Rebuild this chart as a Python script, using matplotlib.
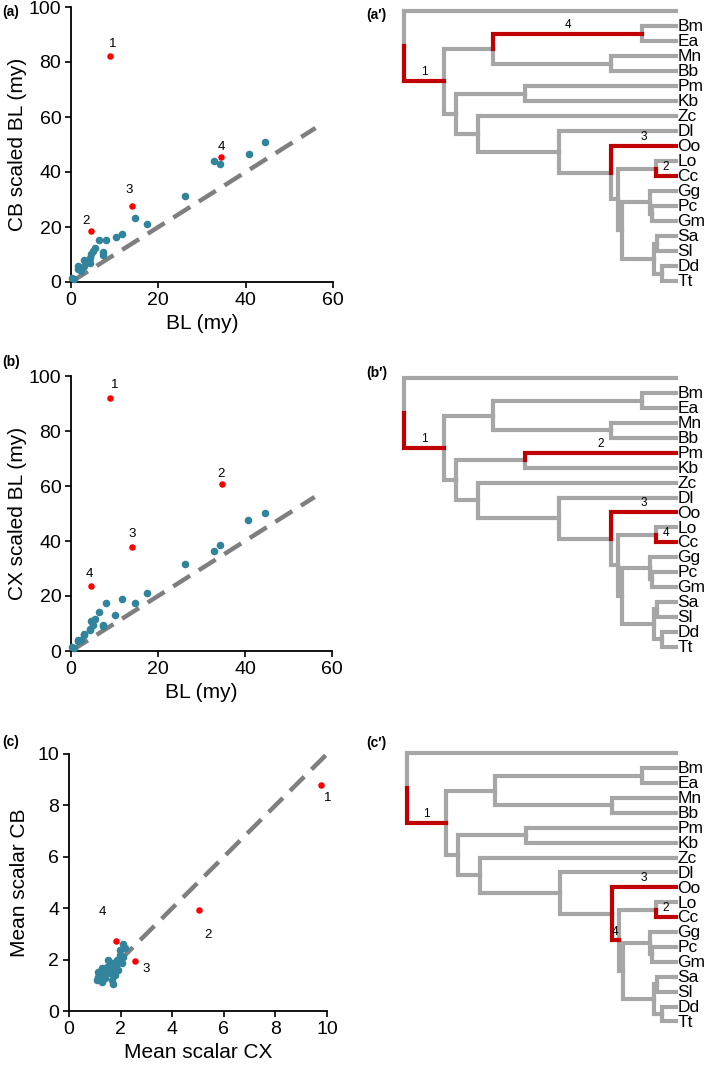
import matplotlib
matplotlib.use('Agg')
import matplotlib.pyplot as plt
import numpy as np

plt.rcParams['font.family'] = ['Liberation Sans', 'DejaVu Sans']

# ---- scatter data ----
# branch lengths (my), shared by panels a and b
bl = [44.5, 40.8, 32.8, 34.2, 26.2, 17.5, 14.6, 11.7, 10.2, 8.1, 6.5, 7.3, 7.3,
      5.6, 5.1, 4.6, 4.3, 4.3, 3.0, 3.0, 1.7, 1.5, 2.4, 0.3, 0.6]
cb_bl = [51.0, 46.4, 44.1, 42.9, 31.4, 21.0, 23.3, 17.5, 16.2, 15.2, 15.2, 10.9, 9.7,
         12.5, 11.3, 10.1, 8.7, 6.8, 8.0, 5.9, 5.9, 4.7, 4.0, 1.5, 1.0]
cx_bl = [50.1, 47.8, 36.2, 38.5, 31.5, 21.1, 17.6, 18.9, 13.0, 17.6, 14.2, 9.3, 9.0,
         11.8, 9.3, 10.8, 8.1, 7.8, 5.9, 6.2, 3.9, 3.6, 4.0, 1.5, 1.0]

red_a_x = [8.9, 4.5, 14.0, 34.4]
red_a_y = [82.2, 18.7, 27.8, 45.3]
red_b_x = [8.9, 34.6, 14.0, 4.6]
red_b_y = [92.1, 60.7, 37.7, 23.8]

scal_cx = [2.08, 2.17, 1.97, 1.97, 2.10, 1.87, 2.04, 1.52, 1.65, 1.84, 1.46, 1.71,
           1.91, 1.26, 1.13, 1.32, 1.58, 1.78, 1.13, 1.39, 1.07, 1.26, 1.65, 1.71]
scal_cb = [2.61, 2.44, 2.37, 2.18, 2.11, 2.00, 1.85, 1.98, 1.85, 1.79, 1.72, 1.62,
           1.59, 1.66, 1.52, 1.46, 1.46, 1.39, 1.33, 1.27, 1.20, 1.13, 1.20, 1.07]
red_c_x = [9.75, 5.05, 2.56, 1.84]
red_c_y = [8.79, 3.93, 1.95, 2.72]

point_labels = ['1', '2', '3', '4']
# label offsets in pixels (dx, dy up)
off_a = [(3, 12), (-5, 10), (-3, 16), (0, 10)]
off_b = [(5, 13), (-1, 10), (0, 13), (-2, 12)]
off_c = [(7, -13), (9, -25), (11, -8), (-14, 29)]

# ---- tree data ----
tips = ['Out', 'Bm', 'Ea', 'Mn', 'Bb', 'Pm', 'Kb', 'Zc', 'Dl', 'Oo', 'Lo', 'Cc',
        'Gg', 'Pc', 'Gm', 'Sa', 'Sl', 'Dd', 'Tt']
children = {
    'root': ['Out', 'A'], 'A': ['B', 'C'], 'B': ['BE', 'MB'], 'BE': ['Bm', 'Ea'],
    'MB': ['Mn', 'Bb'], 'C': ['PK', 'D'], 'PK': ['Pm', 'Kb'], 'D': ['Zc', 'E'],
    'E': ['Dl', 'F'], 'F': ['Oo', 'G'], 'G': ['LC', 'H'], 'LC': ['Lo', 'Cc'],
    'H': ['GPG', 'SSDT'], 'GPG': ['Gg', 'PG'], 'PG': ['Pc', 'Gm'],
    'SSDT': ['SS', 'DT'], 'SS': ['Sa', 'Sl'], 'DT': ['Dd', 'Tt'],
}
depth = {'root': 0, 'A': 40, 'B': 89, 'BE': 238, 'MB': 207, 'C': 52, 'PK': 121,
         'D': 74, 'E': 155, 'F': 207, 'G': 214, 'LC': 252, 'H': 218, 'GPG': 246,
         'PG': 248, 'SSDT': 250, 'SS': 253, 'DT': 258}
tip_depth = 272
highlight = {
    'a': {'A': '1', 'Cc': '2', 'Oo': '3', 'BE': '4'},
    'b': {'A': '1', 'Pm': '2', 'Oo': '3', 'Cc': '4'},
    'c': {'A': '1', 'Cc': '2', 'Oo': '3', 'G': '4'},
}

BLUE = '#31849b'
RED = '#ff0000'
DASH = '#7f7f7f'
TGRAY = '#a6a6a6'
TRED = '#c00000'

W, H = 709, 1067
fig = plt.figure(figsize=(W / 100, H / 100), dpi=100)


def px_axes(x0, y0, x1, y1):
    return fig.add_axes([x0 / W, 1 - y1 / H, (x1 - x0) / W, (y1 - y0) / H])


def style_scatter(ax):
    for s in ['top', 'right']:
        ax.spines[s].set_visible(False)
    for s in ['left', 'bottom']:
        ax.spines[s].set_linewidth(1.3)
    ax.tick_params(direction='out', length=4, width=1.2, labelsize=14, pad=3)


def draw_scatter(ax, bx, by, rx, ry, offs, line_end, ticks):
    ax.plot(line_end, line_end, color=DASH, lw=3.2,
            dashes=(4.5, 2.3), zorder=1, solid_capstyle='butt')
    ax.scatter(bx, by, s=30, color=BLUE, zorder=3, linewidths=0, clip_on=False)
    ax.scatter(rx, ry, s=22, color=RED, zorder=4, linewidths=0, clip_on=False)
    for lab, x, y, (dx, dy) in zip(point_labels, rx, ry, offs):
        ax.annotate(lab, (x, y), xytext=(dx * 0.72, dy * 0.72), textcoords='offset points',
                    ha='center', va='center', fontsize=9.5)
    style_scatter(ax)
    ax.set_xticks(ticks)
    ax.set_xlim(0, ticks[-1])


# panel a
ax_a = px_axes(71, 7, 333, 282)
draw_scatter(ax_a, bl, cb_bl, red_a_x, red_a_y, off_a, [0, 56], [0, 20, 40, 60])
ax_a.set_ylim(0, 100)
ax_a.set_yticks([0, 20, 40, 60, 80, 100])
ax_a.set_xlabel('BL (my)', fontsize=15, labelpad=4)
ax_a.set_ylabel('CB scaled BL (my)', fontsize=15, labelpad=1)

# panel b
ax_b = px_axes(71, 376, 332, 651)
draw_scatter(ax_b, bl, cx_bl, red_b_x, red_b_y, off_b, [0, 56], [0, 20, 40, 60])
ax_b.set_ylim(0, 100)
ax_b.set_yticks([0, 20, 40, 60, 80, 100])
ax_b.set_xlabel('BL (my)', fontsize=15, labelpad=4)
ax_b.set_ylabel('CX scaled BL (my)', fontsize=15, labelpad=1)

# panel c
ax_c = px_axes(69, 754, 327, 1011)
draw_scatter(ax_c, scal_cx, scal_cb, red_c_x, red_c_y, off_c, [1.1, 9.95],
             [0, 2, 4, 6, 8, 10])
ax_c.set_ylim(0, 10)
ax_c.set_yticks([0, 2, 4, 6, 8, 10])
ax_c.set_xlabel('Mean scalar CX', fontsize=15, labelpad=4)
ax_c.set_ylabel('Mean scalar CB', fontsize=15, labelpad=6)


# ---- trees ----
def node_y(name, ys):
    if name in ys:
        return ys[name]
    y = np.mean([node_y(k, ys) for k in children[name]])
    ys[name] = y
    return y


def node_x(name):
    return depth.get(name, tip_depth)


def draw_tree(ax, hl):
    ys = {t: i for i, t in enumerate(tips)}
    node_y('root', ys)
    segs = [(par, k) for par, kids in children.items() for k in kids]
    for red_pass in [False, True]:
        for par, k in segs:
            is_red = k in hl
            if is_red != red_pass:
                continue
            px, py = node_x(par), ys[par]
            cx, cy = node_x(k), ys[k]
            ax.plot([px, px, cx], [py, cy, cy], color=TRED if is_red else TGRAY,
                    lw=3.0, solid_joinstyle='miter', solid_capstyle='projecting',
                    clip_on=False, zorder=3 if is_red else 2)
            if is_red:
                ax.text((px + cx) / 2, cy - 0.2, hl[k], ha='center', va='bottom',
                        fontsize=8.5, zorder=5)
    for t in tips[1:]:
        ax.text(tip_depth + 1.5, ys[t] + 0.05, t, ha='left', va='center', fontsize=12.5)
    ax.set_xlim(0, tip_depth)
    ax.set_ylim(len(tips) - 0.5, -0.5)
    ax.axis('off')


def tree_axes(root_x, top_line, sp):
    top = top_line - 0.5 * sp
    return px_axes(root_x, top, 676, top + len(tips) * sp)


draw_tree(tree_axes(404.3, 11, 15.0), highlight['a'])
draw_tree(tree_axes(404.3, 378.3, 14.9), highlight['b'])
draw_tree(tree_axes(406.7, 753.3, 14.9), highlight['c'])

# panel letters
for lab, x, y in [('(a)', 2, 12), ('(b)', 2, 362), ('(c)', 2, 742),
                  ('(a\u2032)', 366, 15), ('(b\u2032)', 366, 373), ('(c\u2032)', 366, 743)]:
    fig.text(x / W, 1 - y / H, lab, fontsize=10, fontweight='bold', ha='left', va='center')

fig.savefig('out.png', dpi=100)
